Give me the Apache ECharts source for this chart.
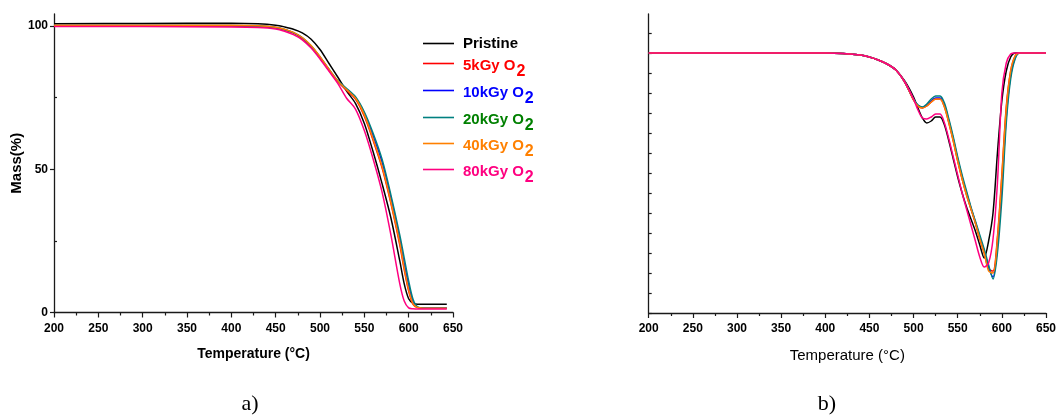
<!DOCTYPE html>
<html>
<head>
<meta charset="utf-8">
<script src="https://cdn.jsdelivr.net/npm/echarts@6/dist/echarts.min.js"></script>
<style>
html,body{margin:0;padding:0;background:#fff;}
#chart{width:1059px;height:416px;}
</style>
</head>
<body>
<div id="chart"></div>
<script>
// ---------- DATA ----------
var seriesNames = ['Pristine', '5kGy O2', '10kGy O2', '20kGy O2', '40kGy O2', '80kGy O2'];
var lineColors = ['#000000', '#FF0000', '#0000FF', '#008080', '#FF8000', '#FF0080'];
var legendTextColors = ['#000000', '#FF0000', '#0000FF', '#008000', '#FF8000', '#FF0080'];

// (a) TGA : mass (%) vs temperature (°C)
var tgaTemps = [200, 300, 400, 430, 450, 460, 470, 480, 490, 500, 510, 520, 530, 540, 550, 560, 570, 580, 590, 595, 600, 605, 610, 620, 643];
var tgaPristine = [100.8, 100.9, 101.0, 100.8, 100.3, 99.7, 98.9, 97.6, 95.4, 91.8, 87.0, 82.2, 77.3, 73.0, 66.0, 56.0, 45.0, 33.0, 18.0, 10.0, 4.8, 3.2, 2.9, 2.9, 2.9];
var tga5 = [100.0, 100.0, 100.0, 99.8, 99.4, 98.6, 97.5, 95.6, 92.8, 88.9, 84.6, 80.6, 77.5, 74.5, 68.5, 60.0, 50.5, 38.0, 23.5, 15.0, 7.5, 2.8, 1.7, 1.5, 1.5];
var tga10 = [100.2, 100.2, 100.2, 100.0, 99.5, 98.8, 97.7, 95.9, 93.0, 89.1, 84.8, 80.7, 77.9, 75.0, 69.5, 61.5, 52.5, 40.0, 25.5, 17.0, 9.5, 3.5, 1.8, 1.5, 1.5];
var tga20 = [100.2, 100.2, 100.2, 100.0, 99.5, 98.8, 97.7, 95.9, 93.0, 89.2, 85.0, 80.9, 78.2, 75.3, 70.0, 62.5, 53.5, 41.0, 27.0, 19.0, 11.0, 4.5, 2.0, 1.5, 1.5];
var tga40 = [100.3, 100.3, 100.3, 100.1, 99.6, 98.9, 97.8, 96.0, 93.2, 89.3, 85.0, 80.8, 77.8, 74.8, 69.0, 60.5, 51.0, 38.5, 24.3, 15.5, 8.0, 3.0, 1.8, 1.5, 1.5];
var tga80 = [99.8, 99.8, 99.7, 99.5, 99.0, 98.2, 97.0, 95.2, 92.3, 88.5, 84.3, 80.0, 74.8, 71.0, 63.5, 53.5, 42.0, 27.0, 10.0, 4.0, 1.6, 1.3, 1.2, 1.2, 1.2];

// (b) DTG : derivative (arb. units) vs temperature (°C)
var dtgTemps = [200, 300, 400, 420, 440, 450, 460, 470, 480, 490, 500, 505, 510, 515, 520, 525, 530, 535, 540, 545, 550, 555, 560, 565, 570, 575, 580, 585, 590, 595, 600, 605, 610, 615, 620, 650];
var dtgPristine = [0, 0, 0, -0.02, -0.1, -0.2, -0.35, -0.55, -0.85, -1.4, -2.2, -2.75, -3.25, -3.5, -3.4, -3.2, -3.2, -3.6, -4.4, -5.3, -6.2, -7.0, -7.7, -8.3, -8.9, -9.6, -10.25, -9.4, -8.0, -5.0, -2.4, -0.9, -0.2, 0, 0, 0];
var dtg5 = [0, 0, 0, -0.02, -0.1, -0.2, -0.35, -0.55, -0.85, -1.45, -2.35, -2.65, -2.75, -2.65, -2.45, -2.3, -2.3, -2.7, -3.5, -4.4, -5.4, -6.3, -7.1, -7.8, -8.5, -9.3, -10.0, -10.8, -10.9, -9.2, -6.1, -2.7, -0.9, -0.15, 0, 0];
var dtg10 = [0, 0, 0, -0.02, -0.1, -0.2, -0.35, -0.55, -0.85, -1.45, -2.33, -2.62, -2.72, -2.6, -2.4, -2.25, -2.25, -2.6, -3.4, -4.3, -5.3, -6.2, -7.0, -7.75, -8.45, -9.2, -9.9, -10.7, -11.2, -9.6, -6.7, -3.2, -1.1, -0.25, 0, 0];
var dtg20 = [0, 0, 0, -0.02, -0.1, -0.2, -0.35, -0.55, -0.85, -1.45, -2.3, -2.6, -2.7, -2.55, -2.3, -2.15, -2.15, -2.5, -3.3, -4.2, -5.2, -6.1, -6.9, -7.7, -8.4, -9.1, -9.8, -10.6, -11.3, -10.0, -7.3, -3.5, -1.3, -0.3, 0, 0];
var dtg40 = [0, 0, 0, -0.02, -0.1, -0.2, -0.35, -0.55, -0.85, -1.45, -2.35, -2.65, -2.75, -2.65, -2.45, -2.3, -2.3, -2.7, -3.5, -4.4, -5.4, -6.3, -7.1, -7.8, -8.5, -9.3, -10.0, -10.9, -11.0, -9.3, -6.2, -2.8, -0.9, -0.15, 0, 0];
var dtg80 = [0, 0, 0, -0.02, -0.1, -0.2, -0.35, -0.55, -0.85, -1.45, -2.3, -2.85, -3.25, -3.3, -3.2, -3.05, -3.05, -3.5, -4.3, -5.2, -6.1, -7.0, -7.8, -8.6, -9.4, -10.2, -10.7, -10.5, -9.3, -6.5, -2.0, -0.5, -0.05, 0, 0, 0];

var xTicks = [200, 250, 300, 350, 400, 450, 500, 550, 600, 650];
var massTicks = [0, 50, 100];
var massMinorTicks = [25, 75];
var dtgTicks = [-13, -12, -11, -10, -9, -8, -7, -6, -5, -4, -3, -2, -1, 0, 1];

var tgaSets = [tgaPristine, tga5, tga10, tga20, tga40, tga80];
var dtgSets = [dtgPristine, dtg5, dtg10, dtg20, dtg40, dtg80];

// ---------- CHART ----------
var FONT = '"Liberation Sans", Arial, sans-serif';
var AX = '#1a1a1a';

function zip(xs, ys) { return xs.map(function (x, i) { return [x, ys[i]]; }); }

var series = [];
seriesNames.forEach(function (n, i) {
  series.push({
    name: n, type: 'line', xAxisIndex: 0, yAxisIndex: 0,
    data: zip(tgaTemps, tgaSets[i]), showSymbol: false, symbol: 'none',
    smooth: 0.3, lineStyle: { width: 1.5, color: lineColors[i] }, itemStyle: { color: lineColors[i] },
    z: 2 + i, silent: true
  });
});
seriesNames.forEach(function (n, i) {
  series.push({
    name: n + ' dtg', type: 'line', xAxisIndex: 1, yAxisIndex: 2,
    data: zip(dtgTemps, dtgSets[i]), showSymbol: false, symbol: 'none',
    smooth: 0.3, lineStyle: { width: 1.5, color: lineColors[i] }, itemStyle: { color: lineColors[i] },
    z: 2 + i, silent: true
  });
});

var legendTops = [36, 55.5, 82.5, 109.5, 135.5, 161.5];
var legends = seriesNames.map(function (n, i) {
  var c = legendTextColors[i];
  return {
    data: [n], left: 423, top: legendTops[i], orient: 'vertical', padding: 0,
    icon: 'rect', itemWidth: 31, itemHeight: 1.6, selectedMode: false,
    formatter: function (name) {
      if (name.indexOf(' O2') > 0) return '{m|' + name.slice(0, -1) + '}{s|2}';
      return '{p|' + name + '}';
    },
    textStyle: {
      color: c, fontFamily: FONT, fontWeight: 'bold', fontSize: 15,
      rich: {
        p: { color: c, fontFamily: FONT, fontWeight: 'bold', fontSize: 15, lineHeight: 16, padding: [0, 0, 0, 4] },
        m: { color: c, fontFamily: FONT, fontWeight: 'bold', fontSize: 15, lineHeight: 16, verticalAlign: 'top', padding: [2.5, 0, 0, 4] },
        s: { color: c, fontFamily: FONT, fontWeight: 'bold', fontSize: 16, lineHeight: 16, verticalAlign: 'top', padding: [8, 0, 0, 1] }
      }
    }
  };
});

var xAxisBase = function (gridIndex, nameBold, nameSize) {
  return {
    type: 'value', gridIndex: gridIndex, min: 200, max: 650, interval: 50,
    name: 'Temperature (°C)', nameLocation: 'middle', nameGap: 35,
    nameTextStyle: { fontFamily: FONT, fontWeight: nameBold ? 'bold' : 'normal', fontSize: nameSize, color: '#000' },
    axisLine: { show: true, onZero: false, lineStyle: { color: AX, width: 1.3 } },
    axisTick: { show: true, inside: false, length: 5, lineStyle: { color: AX, width: 1.2 } },
    minorTick: { show: true, splitNumber: 2, length: 3, lineStyle: { color: AX, width: 1.2 } },
    axisLabel: { fontFamily: FONT, fontWeight: 'bold', fontSize: 12, color: '#000', margin: 10,
      customValues: xTicks },
    splitLine: { show: false }, minorSplitLine: { show: false }
  };
};

var option = {
  animation: false,
  backgroundColor: '#fff',
  grid: [
    { left: 54, top: 14, width: 399, height: 298.5 },
    { left: 648.7, top: 14, width: 398.3, height: 299 }
  ],
  legend: legends,
  xAxis: [xAxisBase(0, true, 14), xAxisBase(1, false, 15)],
  yAxis: [
    {
      type: 'value', gridIndex: 0, min: 0, max: 104.2, position: 'left',
      name: 'Mass(%)', nameLocation: 'middle', nameGap: 30, nameRotate: 90,
      nameTextStyle: { fontFamily: FONT, fontWeight: 'bold', fontSize: 15, color: '#000' },
      axisLine: { show: true, onZero: false, lineStyle: { color: AX, width: 1.3 } },
      axisTick: { show: true, inside: false, length: 4, customValues: massTicks, lineStyle: { color: AX, width: 1.2 } },
      axisLabel: { fontFamily: FONT, fontWeight: 'bold', fontSize: 12, color: '#000', margin: 6, customValues: massTicks },
      splitLine: { show: false }
    },
    {
      type: 'value', gridIndex: 0, min: 0, max: 104.2, position: 'left', offset: 0,
      axisLine: { show: false },
      axisTick: { show: true, inside: true, length: 3, customValues: massMinorTicks, lineStyle: { color: AX, width: 1.2 } },
      axisLabel: { show: false },
      splitLine: { show: false }
    },
    {
      type: 'value', gridIndex: 1, min: -13, max: 1.95, position: 'left',
      axisLine: { show: true, onZero: false, lineStyle: { color: AX, width: 1.3 } },
      axisTick: { show: true, inside: true, length: 3, customValues: dtgTicks, lineStyle: { color: AX, width: 1.2 } },
      axisLabel: { show: false },
      splitLine: { show: false }
    }
  ],
  graphic: [
    { type: 'text', x: 250, y: 404, style: { text: 'a)', font: '22px "Liberation Serif", "Times New Roman", serif', fill: '#000', align: 'center', verticalAlign: 'middle', textAlign: 'center', textVerticalAlign: 'middle' } },
    { type: 'text', x: 827, y: 404, style: { text: 'b)', font: '22px "Liberation Serif", "Times New Roman", serif', fill: '#000', align: 'center', verticalAlign: 'middle', textAlign: 'center', textVerticalAlign: 'middle' } }
  ],
  series: series
};

var chart = echarts.init(document.getElementById('chart'), null, { renderer: 'canvas' });
chart.setOption(option);
</script>
</body>
</html>
